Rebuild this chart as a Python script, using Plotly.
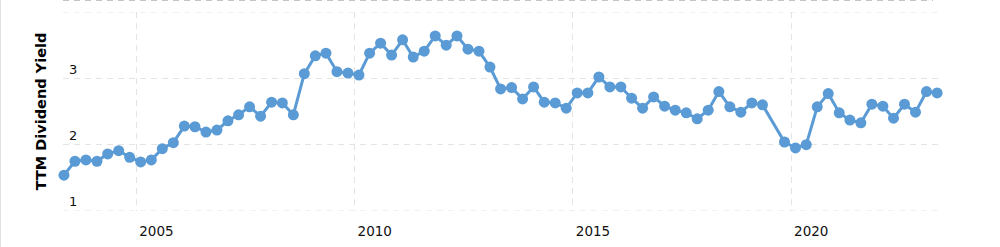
import plotly.graph_objects as go

# Quarterly TTM dividend yield (2019-08 missing in source)
dates = [
    "2003-05-07", "2003-08-07", "2003-11-07",
    "2004-02-07", "2004-05-07", "2004-08-07", "2004-11-07",
    "2005-02-07", "2005-05-07", "2005-08-07", "2005-11-07",
    "2006-02-07", "2006-05-07", "2006-08-07", "2006-11-07",
    "2007-02-07", "2007-05-07", "2007-08-07", "2007-11-07",
    "2008-02-07", "2008-05-07", "2008-08-07", "2008-11-07",
    "2009-02-07", "2009-05-07", "2009-08-07", "2009-11-07",
    "2010-02-07", "2010-05-07", "2010-08-07", "2010-11-07",
    "2011-02-07", "2011-05-07", "2011-08-07", "2011-11-07",
    "2012-02-07", "2012-05-07", "2012-08-07", "2012-11-07",
    "2013-02-07", "2013-05-07", "2013-08-07", "2013-11-07",
    "2014-02-07", "2014-05-07", "2014-08-07", "2014-11-07",
    "2015-02-07", "2015-05-07", "2015-08-07", "2015-11-07",
    "2016-02-07", "2016-05-07", "2016-08-07", "2016-11-07",
    "2017-02-07", "2017-05-07", "2017-08-07", "2017-11-07",
    "2018-02-07", "2018-05-07", "2018-08-07", "2018-11-07",
    "2019-02-07", "2019-05-07", "2019-11-07",
    "2020-02-07", "2020-05-07", "2020-08-07", "2020-11-07",
    "2021-02-07", "2021-05-07", "2021-08-07", "2021-11-07",
    "2022-02-07", "2022-05-07", "2022-08-07", "2022-11-07",
    "2023-02-07", "2023-05-07",
]
yield_ttm = [
    1.54, 1.75, 1.77,
    1.75, 1.86, 1.91, 1.81,
    1.74, 1.77, 1.94, 2.03,
    2.28, 2.27, 2.19, 2.22,
    2.36, 2.45, 2.57, 2.43,
    2.64, 2.63, 2.45, 3.07,
    3.34, 3.38, 3.10, 3.08,
    3.05, 3.38, 3.53, 3.35,
    3.58, 3.32, 3.41, 3.64,
    3.50, 3.64, 3.44, 3.41,
    3.17, 2.84, 2.86, 2.69,
    2.87, 2.64, 2.63, 2.55,
    2.78, 2.78, 3.02, 2.87,
    2.87, 2.70, 2.55, 2.72,
    2.58, 2.52, 2.48, 2.39,
    2.52, 2.80, 2.57, 2.49,
    2.63, 2.60, 2.04,
    1.95, 2.00, 2.57, 2.77,
    2.48, 2.37, 2.33, 2.61,
    2.58, 2.40, 2.61, 2.49,
    2.80, 2.78,
]
y_ticks = [1, 2, 3, 4]
y_tick_text = ["1", "2", "3", ""]
x_ticks = ["2005-01-01", "2010-01-01", "2015-01-01", "2020-01-01"]
x_tick_text = ["2005", "2010", "2015", "2020"]
y_title = "TTM Dividend Yield"

FONT = "DejaVu Sans"
GRID = "#e4e4e4"
DASH = "6px,5px"

fig = go.Figure()
fig.add_trace(go.Scatter(
    x=dates, y=yield_ttm, mode="lines+markers",
    line=dict(color="#5b9bd5", width=3),
    marker=dict(color="#5b9bd5", size=11),
    cliponaxis=False,
    hoverinfo="x+y",
))

edge_lines = [
    dict(type="line", xref="paper", yref="y", layer="below",
         x0=0, x1=1, y0=v, y1=v,
         line=dict(color=GRID, width=1, dash=DASH))
    for v in (y_ticks[0], y_ticks[-1])
]

fig.update_layout(
    width=1000, height=247,
    margin=dict(l=63, r=60, t=12, b=36, autoexpand=False),
    paper_bgcolor="white", plot_bgcolor="white",
    showlegend=False,
    font=dict(family=FONT, color="#111111", size=13),
    xaxis=dict(
        type="date", automargin=False,
        range=["2003-04-29", "2023-05-31"],
        tickvals=x_ticks, ticktext=x_tick_text,
        ticklabelposition="outside right",
        ticklabelstandoff=10, ticklabelshift=3,
        ticks="",
        tickfont=dict(size=13.5, family=FONT, color="#111111"),
        showgrid=True, gridcolor=GRID, griddash=DASH, gridwidth=1,
        zeroline=False, showline=False,
        fixedrange=True,
    ),
    yaxis=dict(
        range=[1, 4], automargin=False,
        tickvals=y_ticks, ticktext=y_tick_text,
        ticklabelposition="inside top",
        ticklabelstandoff=3,
        tickfont=dict(size=13, family=FONT, color="#111111"),
        showgrid=True, gridcolor=GRID, griddash=DASH, gridwidth=1,
        zeroline=False, showline=False, ticks="",
        title=dict(text=y_title, standoff=18,
                   font=dict(size=14.5, family=FONT, color="#000000", weight="bold")),
        fixedrange=True,
    ),
    shapes=edge_lines + [
        dict(type="line", xref="paper", yref="paper",
             x0=0, x1=0.992, y0=1 + 11.5 / 199, y1=1 + 11.5 / 199,
             line=dict(color="#c4c4c4", width=1, dash=DASH)),
        dict(type="line", xref="paper", yref="paper",
             x0=-62.5 / 877, x1=-62.5 / 877, y0=-36 / 199, y1=1 + 12 / 199,
             line=dict(color="#e2e2e2", width=1)),
    ],
)

fig.write_html("out.html")
